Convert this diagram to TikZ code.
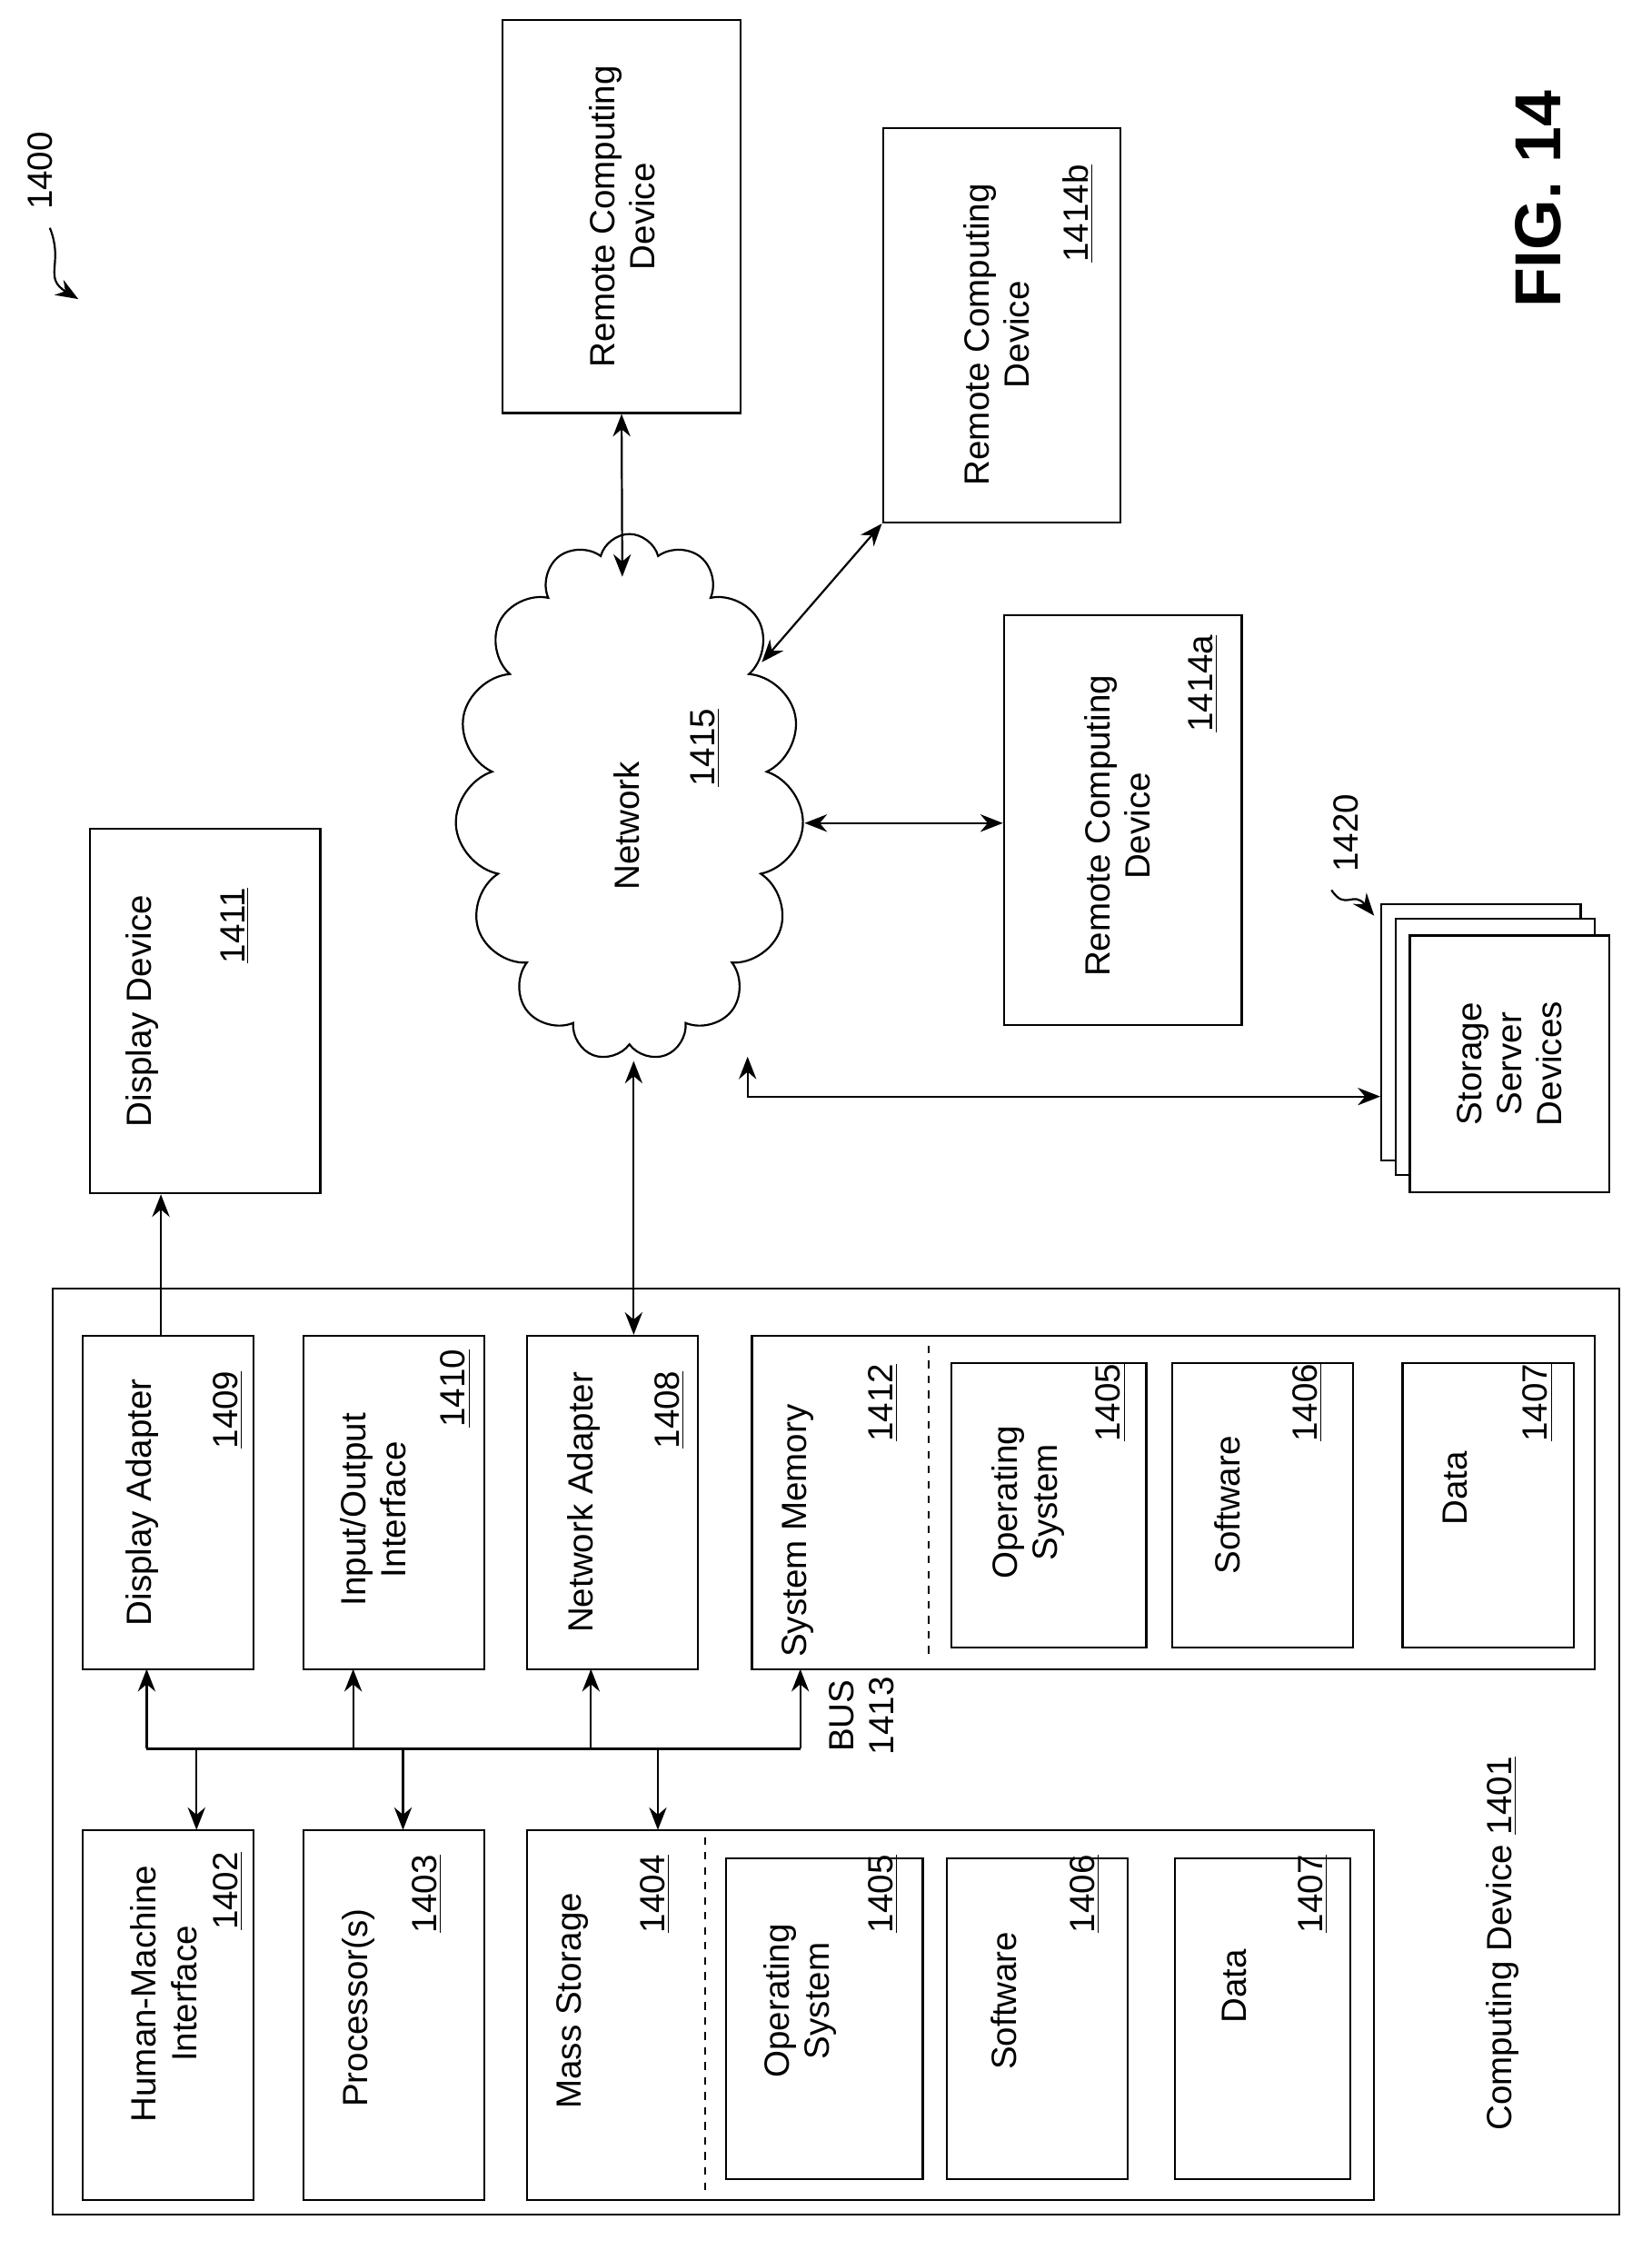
\documentclass[tikz,border=0pt]{standalone}
\usepackage{fontspec}
\setmainfont{Liberation Sans}
\usetikzlibrary{positioning, fit, shapes.symbols, arrows.meta}
\tikzset{
  box/.style={draw, thick, inner sep=0pt},
  txt/.style={rotate=90, align=center, font=\fontsize{14}{16}\selectfont, inner sep=0pt},
  arr/.style={thick, -{Stealth[length=9pt,width=7pt]}},
  darr/.style={thick, {Stealth[length=9pt,width=7pt]}-{Stealth[length=9pt,width=7pt]}}
}
\newcommand{\boxat}[5]{\node[box, fit={(#2,#3)(#4,#5)}] (#1) {};}
\begin{document}
\begin{tikzpicture}[x=0.02cm, y=-0.02cm]
  \useasboundingbox (0,0) rectangle (1160,1580);
  % labels
  \node[txt] (l1400) at (28,120) {1400};
  \draw[arr] (35,160) .. controls (45,185) and (30,195) .. (55,210);
  \node[txt, font=\fontsize{26}{30}\selectfont\bfseries] (fig) at (1080,140) {FIG. 14};

  % network side
  \node[draw, thick, cloud, cloud puffs=15, cloud ignores aspect, minimum width=245*0.02cm, minimum height=370*0.02cm] (net) at (442,560) {};
  \node[txt] (nettxt) at (440,580) {Network};
  \node[txt] (netnum) at (495,525) {\underline{1415}};

  \boxat{rtop}{353}{14}{520}{290}
  \node[txt] at (437,152) {Remote Computing\\Device};
  \boxat{rb}{620}{90}{787}{367}
  \node[txt] at (700,235) {Remote Computing\\Device};
  \node[txt] at (757,150) {\underline{1414b}};
  \boxat{ra}{705}{432}{872}{720}
  \node[txt] at (785,580) {Remote Computing\\Device};
  \node[txt] at (845,480) {\underline{1414a}};

  \boxat{disp}{63}{582}{225}{838}
  \node[txt] at (100,710) {Display Device};
  \node[txt] at (165,650) {\underline{1411}};

  \node[box, fill=white, fit={(970,635)(1110,815)}] (st3) {};
  \node[box, fill=white, fit={(980,645)(1120,825)}] (st2) {};
  \node[box, fill=white, fit={(990,657)(1130,837)}] (st1) {};
  \node[txt] at (1060,747) {Storage\\Server\\Devices};
  \node[txt] (l1420) at (945,585) {1420};
  \draw[arr] (935,625) .. controls (945,640) and (950,625) .. (965,643);

  \draw[darr] (rtop.south) -- (437,405);
  \draw[darr] (rb.south west) -- (535,465);
  \draw[darr] (565,578) -- (ra.west |- 0,578);
  \coordinate (stup) at (525,742);
  \draw[darr] (stup) |- (st3.west |- 0,770);

  % computing device
  \boxat{cd}{37}{905}{1137}{1555}
  \node[txt] at (1055,1365) {Computing Device \underline{1401}};

  \boxat{da}{58}{938}{178}{1172}
  \node[txt] at (100,1055) {Display Adapter};
  \node[txt] at (160,990) {\underline{1409}};
  \boxat{io}{213}{938}{340}{1172}
  \node[txt] at (262,1060) {Input/Output\\Interface};
  \node[txt] at (320,975) {\underline{1410}};
  \boxat{na}{370}{938}{490}{1172}
  \node[txt] at (410,1055) {Network Adapter};
  \node[txt] at (470,990) {\underline{1408}};
  \boxat{sm}{528}{938}{1120}{1172}
  \node[txt] at (560,1075) {System Memory};
  \node[txt] at (620,985) {\underline{1412}};
  \draw[thick, dashed] (652,945) -- (652,1165);
  \boxat{smos}{668}{957}{805}{1157}
  \node[txt] at (722,1055) {Operating\\System};
  \node[txt] at (780,985) {\underline{1405}};
  \boxat{smsw}{823}{957}{950}{1157}
  \node[txt] at (862,1057) {Software};
  \node[txt] at (918,985) {\underline{1406}};
  \boxat{smd}{985}{957}{1105}{1157}
  \node[txt] at (1022,1045) {Data};
  \node[txt] at (1080,985) {\underline{1407}};

  \boxat{hmi}{58}{1285}{178}{1545}
  \node[txt] at (115,1400) {Human-Machine\\Interface};
  \node[txt] at (160,1328) {\underline{1402}};
  \boxat{proc}{213}{1285}{340}{1545}
  \node[txt] at (252,1410) {Processor(s)};
  \node[txt] at (300,1330) {\underline{1403}};
  \boxat{ms}{370}{1285}{965}{1545}
  \node[txt] at (402,1405) {Mass Storage};
  \node[txt] at (460,1330) {\underline{1404}};
  \draw[thick, dashed] (495,1290) -- (495,1540);
  \boxat{msos}{510}{1305}{648}{1530}
  \node[txt] at (562,1405) {Operating\\System};
  \node[txt] at (620,1330) {\underline{1405}};
  \boxat{mssw}{665}{1305}{792}{1530}
  \node[txt] at (705,1405) {Software};
  \node[txt] at (762,1330) {\underline{1406}};
  \boxat{msd}{825}{1305}{948}{1530}
  \node[txt] at (867,1395) {Data};
  \node[txt] at (922,1330) {\underline{1407}};

  % bus
  \draw[thick] (103,1228) -- (562,1228);
  \draw[arr] (103,1228) -- (103,1172);
  \draw[arr] (138,1228) -- (138,1285);
  \draw[arr] (248,1228) -- (248,1172);
  \draw[arr] (283,1228) -- (283,1285);
  \draw[arr] (415,1228) -- (415,1172);
  \draw[arr] (462,1228) -- (462,1285);
  \draw[arr] (562,1228) -- (562,1172);
  \node[txt] at (605,1205) {BUS\\1413};

  \draw[arr] (da.north -| 113,0) -- (disp.south -| 113,0);
  \draw[darr] (na.north -| 445,0) -- (445,745);
\end{tikzpicture}
\end{document}
